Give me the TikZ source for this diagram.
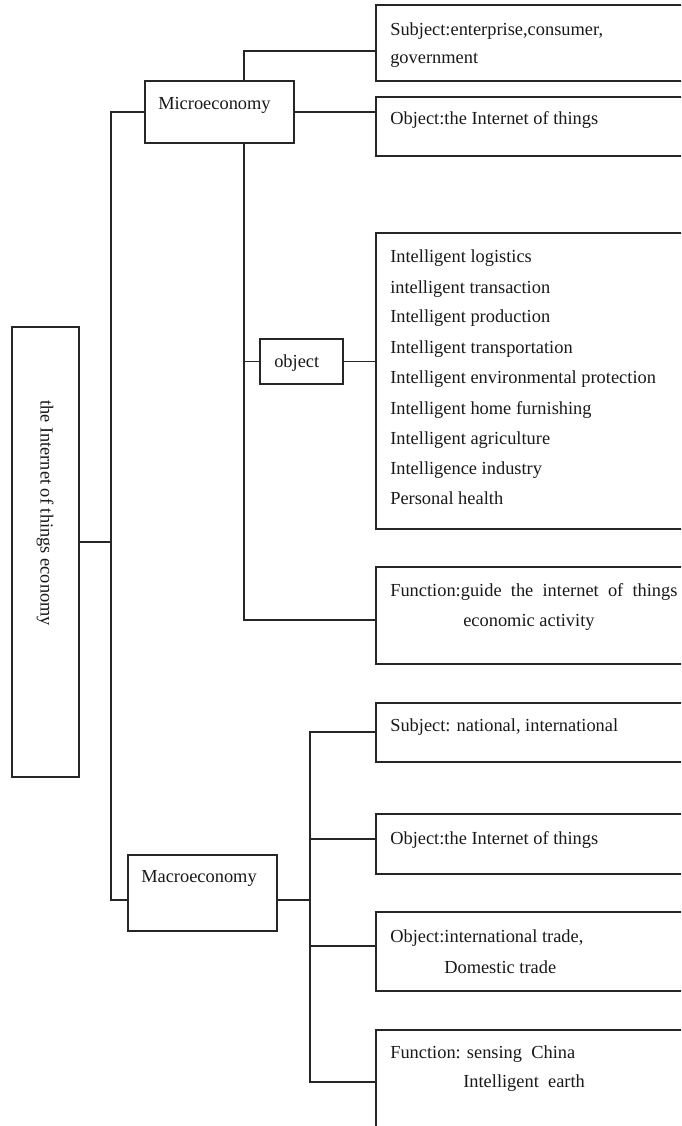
\documentclass[tikz,border=0pt]{standalone}
\usepackage{fontspec}
\setmainfont{Liberation Serif}
\usetikzlibrary{fit}
\begin{document}
\begin{tikzpicture}[x=0.75pt,y=-0.75pt,
  box/.style={draw=black!85, line width=0.9pt, inner sep=0pt},
  txt/.style={anchor=west, inner sep=0pt, font=\fontsize{13.8}{16}\selectfont, text=black!90},
  con/.style={draw=black!85, line width=0.9pt}]
\useasboundingbox (0,0) rectangle (681,1126);
\clip (0,0) rectangle (681,1126);
% boxes
\node[box, fit={(12,327) (79,777)}] (root) {};
\node[box, fit={(145,81) (294,143)}] (micro) {};
\node[box, fit={(376,5) (700,81)}] (s1) {};
\node[box, fit={(376,97) (700,156)}] (o1) {};
\node[box, fit={(376,233) (700,529)}] (list) {};
\node[box, fit={(260,339) (343,384)}] (obj) {};
\node[box, fit={(376,567) (700,664)}] (f1) {};
\node[box, fit={(128,855) (277,931)}] (macro) {};
\node[box, fit={(376,703) (700,762)}] (s2) {};
\node[box, fit={(376,814) (700,874)}] (o2) {};
\node[box, fit={(376,912) (700,991)}] (o3) {};
\node[box, fit={(376,1030) (700,1160)}] (f2) {};
% texts
\node[txt, anchor=center, rotate=-90] (rt) at (45,513) {the Internet of things economy};
\node[txt] (tm) at (158,105) {Microeconomy};
\node[txt] (ts1a) at (390,31) {Subject:enterprise,consumer,};
\node[txt] (ts1b) at (390,60) {government};
\node[txt] (to1) at (390,120) {Object:the Internet of things};
\node[txt] (tobj) at (274,363) {object};
\node[txt] (l1) at (390,258) {Intelligent logistics};
\node[txt] (l2) at (390,289) {intelligent transaction};
\node[txt] (l3) at (390,318) {Intelligent production};
\node[txt] (l4) at (390,349) {Intelligent transportation};
\node[txt] (l5) at (390,379) {Intelligent environmental protection};
\node[txt] (l6) at (390,410) {Intelligent home furnishing};
\node[txt] (l7) at (390,440) {Intelligent agriculture};
\node[txt] (l8) at (390,470) {Intelligence industry};
\node[txt] (l9) at (390,498) {Personal health};
\node[txt] (tf1a) at (390,592) {Function:guide\ \ the\ \ internet\ \ of\ \ things};
\node[txt] (tf1b) at (463,622) {economic activity};
\node[txt] (tma) at (141,878) {Macroeconomy};
\node[txt] (ts2) at (390,727) {Subject: national, international};
\node[txt] (to2) at (390,840) {Object:the Internet of things};
\node[txt] (to3a) at (390,938) {Object:international trade,};
\node[txt] (to3b) at (444,967) {Domestic trade};
\node[txt] (tf2a) at (390,1054) {Function: sensing\ \ China};
\node[txt] (tf2b) at (463,1083) {Intelligent\ \ earth};
% helper coordinates
\coordinate (tt) at (111,112);
\coordinate (tb) at (111,900);
\coordinate (tr) at (111,542);
\coordinate (mv) at (244,0);
\coordinate (y1) at (0,51);
\coordinate (y2) at (0,620);
\coordinate (mx) at (310,0);
\coordinate (ya) at (0,732);
\coordinate (yb) at (0,839);
\coordinate (yc) at (0,946);
\coordinate (yd) at (0,1082);
% connectors
\draw[con] (micro.west) -- (tt) -- (tb) -- (macro.west |- tb);
\draw[con] (root.east |- tr) -- (tr);
\draw[con] (micro.north -| mv) |- (s1.west |- y1);
\draw[con] (micro.east) -- (o1.west |- micro.east);
\draw[con] (micro.south -| mv) |- (f1.west |- y2);
\draw[con] (obj.west -| mv) -- (obj.west);
\draw[con] (obj.east) -- (list.west |- obj.east);
\draw[con] (macro.east |- tb) -- (mx |- tb);
\draw[con] (s2.west |- ya) -| (mx |- yd) -- (f2.west |- yd);
\draw[con] (o2.west |- yb) -- (mx |- yb);
\draw[con] (o3.west |- yc) -- (mx |- yc);
\end{tikzpicture}
\end{document}
